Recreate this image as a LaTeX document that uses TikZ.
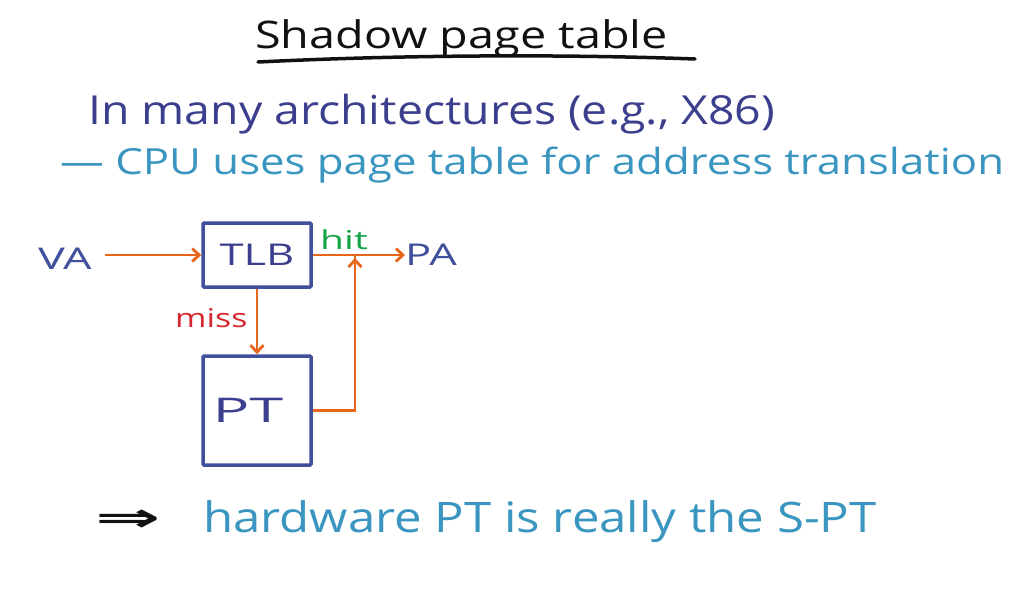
\documentclass[tikz,border=0pt]{standalone}
\usepackage{fontspec}
\usepackage{graphicx}
\setmainfont{Open Sans}
\newfontfamily\symfont{DejaVu Sans}
\usetikzlibrary{arrows.meta}
\definecolor{inkblack}{HTML}{111111}
\definecolor{inkdark}{HTML}{3C3F8E}
\definecolor{inkbox}{HTML}{40509C}
\definecolor{inklight}{HTML}{3A96C0}
\definecolor{inkorange}{HTML}{E8661A}
\definecolor{inkgreen}{HTML}{17A447}
\definecolor{inkred}{HTML}{D8262E}
% horizontally stretched text: \wide{factor}{size}{text}
\newcommand{\wide}[3]{\scalebox{#1}[1]{\fontsize{#2}{#2}\selectfont #3}}
\tikzset{
  txt/.style={inner sep=0pt, anchor=west},
  blockbox/.style={draw=inkbox, line width=3.5pt, rounded corners=1pt, inner sep=0pt,
    text=inkdark},
  flow/.style={draw=inkorange, line width=2.8pt, -{Straight Barb[length=7pt,width=13pt,line width=2.8pt]}},
  flowplain/.style={draw=inkorange, line width=2.8pt},
}
\begin{document}
\begin{tikzpicture}[x=1pt,y=-1pt]
\useasboundingbox[fill=white] (0,0) rectangle (1027,590);

% heading
\node[txt, text=inkblack] (title) at (255,39) {\wide{1.23}{38}{Shadow page table}};
\draw[inkblack, line width=3.5pt, line cap=round] (258,62) .. controls (400,55) and (560,54) .. (695,59);

% notes
\node[txt, text=inkdark] (arch) at (88,114) {\wide{1.16}{40}{In many architectures (e.g., X86)}};
\node[txt, text=inklight] (cpu) at (60,165) {\wide{1.215}{36}{— CPU uses page table for address translation}};

% translation path
\node[txt, text=inkbox] (va) at (38,259) {\wide{1.5}{30}{VA}};
\node[blockbox, minimum width=108pt, minimum height=64pt] (tlb) at (257,255) {\wide{1.45}{30}{TLB}};
\node[blockbox, minimum width=108pt, minimum height=109pt] (pt) at (257,410.5) {\hspace*{-18pt}\wide{1.8}{34}{PT}};
\node[txt, text=inkbox] (pa) at (405,255) {\wide{1.45}{30}{PA}};
\coordinate (vastart) at (105,255);
\coordinate (join) at (355,255);

\draw[flow] (vastart) -- (tlb.west);
\draw[flow] (tlb.east) -- (pa.west);
\draw[flow] (tlb.south) -- (pt.north);
\draw[flowplain] (pt.east) -| (join);
\draw[flow] ([yshift=-60pt]join) -- ([yshift=-3pt]join);

\node[txt, text=inkgreen] (hit) at (320,240) {\wide{1.5}{26}{hit}};
\node[txt, text=inkred] (miss) at (175,318) {\wide{1.3}{26}{miss}};

% conclusion
\node[txt, text=inkblack] (impl) at (95,521) {\scalebox{1.95}[1]{\symfont\bfseries\fontsize{40}{40}\selectfont ⇒}};
\node[txt, text=inklight] (hw) at (203,522) {\wide{1.17}{42}{hardware PT is really the S-PT}};
\end{tikzpicture}
\end{document}
